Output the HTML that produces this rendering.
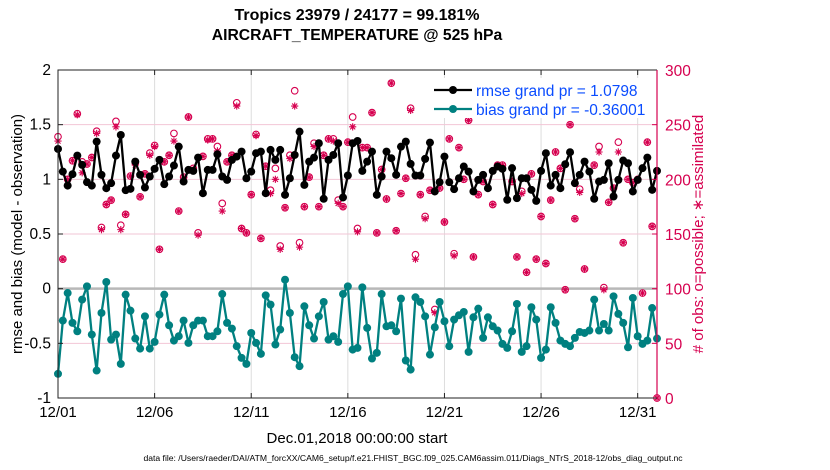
<!DOCTYPE html>
<html><head><meta charset="utf-8"><style>
body{margin:0;background:#fff;}
svg{display:block;font-family:"Liberation Sans",Arial,sans-serif;}
</style></head><body>
<svg id="chart" width="830" height="470" viewBox="0 0 830 470">
<g id="grid"></g>
<g id="obs"></g>
<g id="series"></g>
<g id="axes"></g>
<text x="357" y="20" text-anchor="middle" font-size="16" font-weight="bold">Tropics 23979 / 24177 = 99.181%</text>
<text x="357" y="40" text-anchor="middle" font-size="15.7" font-weight="bold">AIRCRAFT_TEMPERATURE @ 525 hPa</text>
<text transform="translate(22,234) rotate(-90)" text-anchor="middle" font-size="15">rmse and bias (model - observation)</text>
<text transform="translate(703,234) rotate(-90)" text-anchor="middle" font-size="15" fill="#d6004f"># of obs: o=possible; ∗=assimilated</text>
<text x="357" y="443" text-anchor="middle" font-size="15">Dec.01,2018 00:00:00 start</text>
<text x="413" y="461" text-anchor="middle" font-size="8.6">data file: /Users/raeder/DAI/ATM_forcXX/CAM6_setup/f.e21.FHIST_BGC.f09_025.CAM6assim.011/Diags_NTrS_2018-12/obs_diag_output.nc</text>
<g id="legend"></g>
</svg>
<script>
const rmse=[1.278,1.071,0.943,1.047,1.217,1.132,0.974,0.943,1.345,1.041,0.919,0.965,1.217,1.406,0.901,0.913,1.162,1.041,0.925,1.026,1.096,1.178,0.956,1.026,1.126,1.299,0.980,1.086,1.077,1.199,0.873,1.086,
1.086,1.229,1.026,0.995,1.178,1.208,1.254,1.010,1.071,1.239,1.254,0.873,1.269,1.178,1.269,0.858,1.010,1.223,1.436,0.949,1.162,1.199,1.330,0.822,1.178,1.223,1.330,0.834,1.035,1.330,1.351,1.077,
1.162,1.254,0.858,1.026,1.254,1.193,1.041,1.299,1.345,1.141,1.035,1.035,1.187,1.336,0.889,0.974,1.208,0.974,0.910,1.010,1.117,1.071,0.889,0.995,1.041,0.919,1.077,1.117,1.096,0.813,
1.102,0.828,1.010,1.010,0.904,0.803,1.077,1.239,0.943,1.041,0.919,1.138,1.248,0.965,1.041,1.162,1.071,0.822,0.980,0.995,1.147,0.843,0.995,1.172,1.147,0.889,0.995,1.102,1.199,0.904,1.077];
const bias=[-0.779,-0.292,-0.040,-0.313,-0.390,-0.100,0.021,-0.420,-0.749,-0.222,0.061,-0.466,-0.420,-0.688,-0.055,-0.201,-0.456,-0.548,-0.253,-0.548,-0.487,-0.237,-0.055,-0.335,-0.475,-0.435,-0.292,-0.496,-0.335,-0.292,-0.292,-0.435,
-0.435,-0.390,-0.049,-0.313,-0.365,-0.526,-0.633,-0.688,-0.405,-0.496,-0.596,-0.061,-0.146,-0.511,-0.374,0.082,-0.222,-0.627,-0.709,-0.161,-0.335,-0.456,-0.253,-0.122,-0.466,-0.435,-0.487,-0.049,0.021,-0.557,-0.542,0.012,
-0.359,-0.639,-0.587,-0.049,-0.344,-0.335,-0.390,-0.091,-0.657,-0.740,-0.079,-0.122,-0.253,-0.603,-0.353,-0.122,-0.298,-0.526,-0.283,-0.243,-0.213,-0.578,-0.262,-0.183,-0.450,-0.262,-0.344,-0.383,-0.505,-0.542,
-0.390,-0.140,-0.578,-0.526,-0.170,-0.283,-0.633,-0.557,-0.170,-0.313,-0.475,-0.505,-0.526,-0.450,-0.396,-0.405,-0.383,-0.100,-0.383,-0.323,-0.383,-0.070,-0.231,-0.313,-0.536,-0.085,-0.435,-0.505,-0.475,-0.177,-0.456];
const possible=[239,127,200,217,260,216,214,220,244,156,177,181,253,158,168,203,215,184,205,224,231,136,216,222,242,171,202,257,210,151,221,237,
237,230,178,216,222,270,155,151,186,241,146,212,190,210,139,174,222,281,142,175,202,233,175,222,237,237,181,175,234,257,155,229,
229,261,151,209,182,288,153,187,201,265,131,186,166,190,81,192,161,237,132,229,200,254,129,186,198,260,177,213,213,269,
198,129,189,115,205,127,166,123,181,225,210,99,250,164,191,118,276,213,230,101,179,192,234,142,200,197,200,96,234,157,0];
const assimilated=[235,127,200,217,259,206,214,220,242,154,177,181,248,154,168,203,213,184,205,222,230,136,216,222,235,171,202,257,209,149,221,236,
237,226,171,216,222,267,155,151,186,240,146,212,187,200,136,174,219,267,138,175,202,230,175,222,237,235,178,175,234,248,152,229,
229,261,151,209,182,288,153,187,201,263,127,186,164,190,78,192,161,237,130,229,200,254,129,186,198,260,177,213,213,267,
198,129,187,115,205,127,166,123,181,225,210,99,250,164,188,118,276,213,225,99,179,192,225,142,200,197,200,96,234,157,0];
const xTickDays=[0,5,10,15,20,25,30];
const xTickLabels=["12/01","12/06","12/11","12/16","12/21","12/26","12/31"];
const yTicks=[-1,-0.5,0,0.5,1,1.5,2];
const yTickLabels=["-1","-0.5","0","0.5","1","1.5","2"];
const rTicks=[0,50,100,150,200,250,300];
const legendLabels=["rmse grand pr = 1.0798","bias grand pr = -0.36001"];

const L=58,R=657,T=70,B=398;
const xs=d=>L+(d/31)*(R-L);
const ys=v=>B-(v+1)/3*(B-T);
const yr=n=>B-n/300*(B-T);
const NS="http://www.w3.org/2000/svg";
function mk(tag,attrs,parent){const e=document.createElementNS(NS,tag);for(const k in attrs)e.setAttribute(k,attrs[k]);parent.appendChild(e);return e;}
const grid=document.getElementById('grid'),axes=document.getElementById('axes'),obs=document.getElementById('obs'),ser=document.getElementById('series'),leg=document.getElementById('legend');
mk('rect',{x:L,y:T,width:R-L,height:B-T,fill:'#fff'},grid);
xTickDays.forEach((d,i)=>{
  const g=mk('line',{x1:xs(d),x2:xs(d),y1:T,y2:B,stroke:'#dcdcdc','stroke-width':1},grid);
  
  
  const t=mk('text',{x:xs(d),y:417,'text-anchor':'middle','font-size':15},axes);
  t.textContent=xTickLabels[i];
  
  
  mk('line',{x1:xs(d),x2:xs(d),y1:B,y2:B-5,stroke:'#222'},axes);
  mk('line',{x1:xs(d),x2:xs(d),y1:T,y2:T+5,stroke:'#222'},axes);
});
yTicks.forEach((v,i)=>{
  if(v!==0&&v!==2&&v!==-1){
    const g=mk('line',{x1:L,x2:R,y1:ys(v),y2:ys(v),stroke:'#f2c6d6','stroke-width':1},grid);
    
    
  }
  const t=mk('text',{x:51,y:ys(v)+5,'text-anchor':'end','font-size':15.5},axes);
  t.textContent=yTickLabels[i];
  
  
  mk('line',{x1:L,x2:L+5,y1:ys(v),y2:ys(v),stroke:'#222'},axes);
});
rTicks.forEach(n=>{
  const t=mk('text',{x:665,y:yr(n)+6,'font-size':15.5,fill:'#d6004f'},axes);
  t.textContent=String(n);
  
  
  mk('line',{x1:R-5,x2:R,y1:yr(n),y2:yr(n),stroke:'#d6004f'},axes);
});
const z=mk('line',{x1:L,x2:R,y1:ys(0),y2:ys(0),stroke:'#b8b8b8','stroke-width':2.5},grid);


mk('path',{d:`M${R},${T}H${L}V${B}H${R}`,fill:'none',stroke:'#222','stroke-width':1},axes);
mk('line',{x1:R,x2:R,y1:T,y2:B,stroke:'#d6004f','stroke-width':1.2},axes);

const CR='#d6004f';
function star(x,y,p){
  const s=3.6;let d='';
  for(let k=0;k<4;k++){const a=k*Math.PI/4;d+=`M${x-s*Math.cos(a)},${y-s*Math.sin(a)}L${x+s*Math.cos(a)},${y+s*Math.sin(a)}`;}
  return mk('path',{d:d,stroke:CR,'stroke-width':1.1,fill:'none'},p);
}
possible.forEach((n,i)=>{
  const c=mk('circle',{cx:xs(i*0.25),cy:yr(n),r:3.3,fill:'none',stroke:CR,'stroke-width':1.1},obs);
  
  
});
assimilated.forEach((n,i)=>{
  const s=star(xs(i*0.25),yr(n),obs);
  
  
});
function series(vals,color,name){
  const pts=vals.map((v,i)=>[xs(i*0.25),ys(v)]);
  const p=mk('polyline',{points:pts.map(q=>q.join(',')).join(' '),fill:'none',stroke:color,'stroke-width':2.3,'stroke-linejoin':'round'},ser);
  
  
  pts.forEach(q=>{
    const c=mk('circle',{cx:q[0],cy:q[1],r:4,fill:color},ser);
    
    
  });
}
series(rmse,'#000','rmse');
series(bias,'#008080','bias');

mk('rect',{x:432,y:78,width:222,height:40,fill:'#fff'},leg);
const cols=['#000','#008080'];
legendLabels.forEach((lab,i)=>{
  const y=90+i*19;
  mk('line',{x1:434,x2:472,y1:y,y2:y,stroke:cols[i],'stroke-width':2.3},leg);
  mk('circle',{cx:453,cy:y,r:4,fill:cols[i]},leg);
  const t=mk('text',{x:476,y:y+6,'font-size':15.5,fill:'#0a4cff'},leg);
  t.textContent=lab;
  
  
});
</script>
</body></html>
